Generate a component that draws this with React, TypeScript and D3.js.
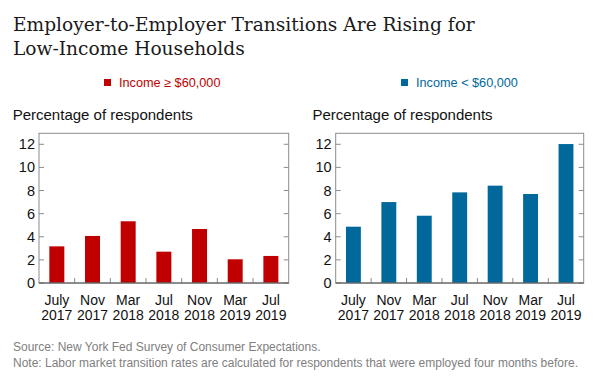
import React from "react";
import * as d3 from "d3";

const categories = ["July|2017", "Nov|2017", "Mar|2018", "Jul|2018", "Nov|2018", "Mar|2019", "Jul|2019"];
const highIncome = [3.17, 4.07, 5.34, 2.71, 4.67, 2.05, 2.34];
const lowIncome = [4.87, 7.0, 5.82, 7.84, 8.42, 7.7, 12.02];
const yTicks = [0, 2, 4, 6, 8, 10, 12];

const RED = "#c00000";
const BLUE = "#00689a";
const AXIS = "#8c8c8c";
const SANS = "Liberation Sans, Arial, sans-serif";

function Panel({ x0, x1, values, color, legend, legendX, labelX }: any) {
  const top = 133.3;
  const bottom = 283;
  const y = d3.scaleLinear().domain([0, 12.95]).range([bottom, top]);
  const x = d3.scaleBand().domain(categories).range([x0, x1]).paddingInner(0.58).paddingOuter(0.29);
  const step = (x1 - x0) / categories.length;
  return (
    <g>
      <rect x={legendX} y={79} width={7} height={7} fill={color} />
      <text x={legendX + 15} y={86.5} fill={color} fontSize={12.7} fontFamily={SANS}>{legend}</text>
      <text x={labelX} y={119.5} fontSize={15} fill="#111" fontFamily={SANS}>Percentage of respondents</text>
      {values.map((v: number, i: number) => (
        <rect key={i} x={x(categories[i])} y={y(v)} width={x.bandwidth()} height={y(0) - y(v)} fill={color} />
      ))}
      <rect x={x0} y={top} width={x1 - x0} height={bottom - top} fill="none" stroke={AXIS} strokeWidth={1} />
      {yTicks.map((t) => (
        <g key={t}>
          <line x1={x0} x2={x0 + 5} y1={y(t)} y2={y(t)} stroke={AXIS} />
          <line x1={x1 - 5} x2={x1} y1={y(t)} y2={y(t)} stroke={AXIS} />
          <text x={x0 - 4} y={y(t) + 5} textAnchor="end" fontSize={14.5} fill="#111" fontFamily={SANS}>{t}</text>
        </g>
      ))}
      {categories.slice(1).map((c, i) => (
        <line key={c} x1={x0 + step * (i + 1)} x2={x0 + step * (i + 1)} y1={bottom} y2={bottom - 5} stroke={AXIS} />
      ))}
      <line x1={x0} x2={x1} y1={bottom} y2={bottom} stroke="#555" />
      {categories.map((c) => {
        const [m, yr] = c.split("|");
        const cx = (x(c) as number) + x.bandwidth() / 2;
        return (
          <text key={c} textAnchor="middle" fontSize={14} fill="#111" fontFamily={SANS}>
            <tspan x={cx} y={305}>{m}</tspan>
            <tspan x={cx} y={320}>{yr}</tspan>
          </text>
        );
      })}
    </g>
  );
}

export default function App() {
  return (
    <svg width={605} height={382} style={{ display: "block", position: "absolute", left: 0, top: 0 }}>
      <rect width={605} height={382} fill="#fff" />
      <text fontFamily="DejaVu Serif, serif" fontSize={18.6} fill="#1a1a1a">
        <tspan x={13} y={31}>Employer-to-Employer Transitions Are Rising for</tspan>
        <tspan x={13} y={55}>Low-Income Households</tspan>
      </text>
      <Panel x0={39} x1={288.7} values={highIncome} color={RED} legend="Income ≥ $60,000" legendX={104} labelX={12.7} />
      <Panel x0={335.7} x1={583.7} values={lowIncome} color={BLUE} legend="Income < $60,000" legendX={401} labelX={312.5} />
      <text x={13} y={350.5} fontSize={12} fill="#808080" fontFamily={SANS}>Source:  New York Fed Survey of Consumer Expectations.</text>
      <text x={13} y={366.5} fontSize={12} fill="#808080" fontFamily={SANS}>Note: Labor market transition rates are calculated for respondents that were employed four months before.</text>
    </svg>
  );
}
